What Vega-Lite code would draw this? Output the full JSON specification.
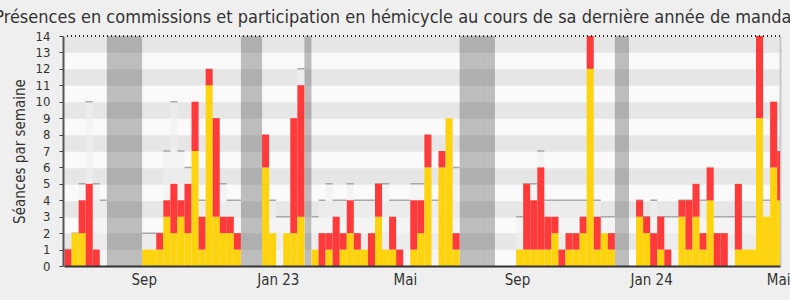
{
  "$schema": "https://vega.github.io/schema/vega-lite/v6.json",
  "width": 716,
  "height": 230,
  "autosize": {"type": "none"},
  "padding": {"left": 64, "top": 36, "right": 10, "bottom": 34},
  "background": "#efefef",
  "config": {
    "font": "'DejaVu Sans Condensed', 'DejaVu Sans', sans-serif",
    "view": {"fill": "#fafafa", "stroke": null},
    "bar": {"binSpacing": 0}
  },
  "title": {
    "text": "Présences en commissions et participation en hémicycle au cours de sa dernière année de mandat",
    "fontSize": 18,
    "fontWeight": "normal",
    "color": "#333333",
    "anchor": "middle",
    "offset": 3,
    "dx": -26
  },
  "data": {
    "values": [
      {"i": 0, "h": 0, "c": 1, "m": 1},
      {"i": 1, "h": 2, "c": 0, "m": 2},
      {"i": 2, "h": 2, "c": 2, "m": 5},
      {"i": 3, "h": 0, "c": 5, "m": 10},
      {"i": 4, "h": 0, "c": 1, "m": 5},
      {"i": 5, "h": 0, "c": 0, "m": 4},
      {"i": 6, "v": 1},
      {"i": 7, "v": 1},
      {"i": 8, "v": 1},
      {"i": 9, "v": 1},
      {"i": 10, "v": 1},
      {"i": 11, "h": 1, "c": 0, "m": 2},
      {"i": 12, "h": 1, "c": 0, "m": 2},
      {"i": 13, "h": 1, "c": 1, "m": 2},
      {"i": 14, "h": 3, "c": 1, "m": 7},
      {"i": 15, "h": 2, "c": 3, "m": 10},
      {"i": 16, "h": 3, "c": 1, "m": 7},
      {"i": 17, "h": 2, "c": 3, "m": 6},
      {"i": 18, "h": 7, "c": 3, "m": 6},
      {"i": 19, "h": 1, "c": 2, "m": 4},
      {"i": 20, "h": 11, "c": 1, "m": 6},
      {"i": 21, "h": 3, "c": 6, "m": 5},
      {"i": 22, "h": 2, "c": 1, "m": 5},
      {"i": 23, "h": 2, "c": 1, "m": 4},
      {"i": 24, "h": 1, "c": 1, "m": 4},
      {"i": 25, "v": 1},
      {"i": 26, "v": 1},
      {"i": 27, "v": 1},
      {"i": 28, "h": 6, "c": 2, "m": 5},
      {"i": 29, "h": 2, "c": 0, "m": 4},
      {"i": 30, "h": 0, "c": 0, "m": 3},
      {"i": 31, "h": 2, "c": 0, "m": 3},
      {"i": 32, "h": 2, "c": 7, "m": 5},
      {"i": 33, "h": 3, "c": 8, "m": 12},
      {"i": 34, "v": 1},
      {"i": 35, "h": 1, "c": 0, "m": 3},
      {"i": 36, "h": 0, "c": 2, "m": 4},
      {"i": 37, "h": 1, "c": 1, "m": 5},
      {"i": 38, "h": 0, "c": 3, "m": 4},
      {"i": 39, "h": 1, "c": 1, "m": 4},
      {"i": 40, "h": 2, "c": 2, "m": 5},
      {"i": 41, "h": 1, "c": 1, "m": 4},
      {"i": 42, "h": 1, "c": 0, "m": 4},
      {"i": 43, "h": 0, "c": 2, "m": 4},
      {"i": 44, "h": 3, "c": 2, "m": 5},
      {"i": 45, "h": 1, "c": 0, "m": 5},
      {"i": 46, "h": 1, "c": 2, "m": 4},
      {"i": 47, "h": 0, "c": 1, "m": 4},
      {"i": 48, "h": 0, "c": 0, "m": 4},
      {"i": 49, "h": 1, "c": 3, "m": 5},
      {"i": 50, "h": 2, "c": 2, "m": 5},
      {"i": 51, "h": 6, "c": 2, "m": 5},
      {"i": 52, "h": 0, "c": 0, "m": 4},
      {"i": 53, "h": 6, "c": 1, "m": 5},
      {"i": 54, "h": 9, "c": 0, "m": 4},
      {"i": 55, "h": 1, "c": 1, "m": 6},
      {"i": 56, "v": 1},
      {"i": 57, "v": 1},
      {"i": 58, "v": 1},
      {"i": 59, "v": 1},
      {"i": 60, "v": 1},
      {"i": 61, "h": 0, "c": 0, "m": 0},
      {"i": 62, "h": 0, "c": 0, "m": 0},
      {"i": 63, "h": 0, "c": 0, "m": 0},
      {"i": 64, "h": 1, "c": 0, "m": 3},
      {"i": 65, "h": 1, "c": 4, "m": 5},
      {"i": 66, "h": 1, "c": 3, "m": 5},
      {"i": 67, "h": 1, "c": 5, "m": 7},
      {"i": 68, "h": 1, "c": 2, "m": 4},
      {"i": 69, "h": 2, "c": 1, "m": 4},
      {"i": 70, "h": 0, "c": 1, "m": 4},
      {"i": 71, "h": 1, "c": 1, "m": 4},
      {"i": 72, "h": 1, "c": 1, "m": 4},
      {"i": 73, "h": 2, "c": 1, "m": 4},
      {"i": 74, "h": 12, "c": 2, "m": 4},
      {"i": 75, "h": 1, "c": 2, "m": 4},
      {"i": 76, "h": 2, "c": 0, "m": 3},
      {"i": 77, "h": 1, "c": 1, "m": 3},
      {"i": 78, "v": 1},
      {"i": 79, "v": 1},
      {"i": 80, "h": 0, "c": 0, "m": 0},
      {"i": 81, "h": 3, "c": 1, "m": 4},
      {"i": 82, "h": 2, "c": 1, "m": 3},
      {"i": 83, "h": 0, "c": 2, "m": 4},
      {"i": 84, "h": 1, "c": 2, "m": 3},
      {"i": 85, "h": 0, "c": 1, "m": 3},
      {"i": 86, "h": 0, "c": 0, "m": 3},
      {"i": 87, "h": 3, "c": 1, "m": 4},
      {"i": 88, "h": 1, "c": 3, "m": 4},
      {"i": 89, "h": 3, "c": 2, "m": 4},
      {"i": 90, "h": 1, "c": 1, "m": 4},
      {"i": 91, "h": 4, "c": 2, "m": 4},
      {"i": 92, "h": 0, "c": 2, "m": 3},
      {"i": 93, "h": 0, "c": 2, "m": 3},
      {"i": 94, "h": 0, "c": 0, "m": 3},
      {"i": 95, "h": 1, "c": 4, "m": 3},
      {"i": 96, "h": 1, "c": 0, "m": 3},
      {"i": 97, "h": 1, "c": 0, "m": 3},
      {"i": 98, "h": 9, "c": 5, "m": 4},
      {"i": 99, "h": 3, "c": 0, "m": 4},
      {"i": 100, "h": 6, "c": 4, "m": 4},
      {"i": 101, "h": 4, "c": 3, "m": 4}
    ]
  },
  "layer": [
    {
      "transform": [{"filter": "datum.v == 1"}],
      "mark": {"type": "bar", "color": "#333333", "opacity": 0.3, "clip": true, "binSpacing": 0},
      "encoding": {
        "x": {"field": "i", "type": "quantitative", "bin": {"step": 1, "extent": [0, 103]},
              "scale": {"domain": [0, 101.47], "nice": false, "zero": false}, "axis": null},
        "y": {"datum": 14, "type": "quantitative", "scale": {"domain": [0, 14], "nice": false}, "axis": null},
        "y2": {"datum": 0}
      }
    },
    {
      "transform": [{"filter": "datum.m > 0"}],
      "mark": {"type": "bar", "color": "#f0f0f0", "opacity": 0.6, "clip": true, "binSpacing": 0},
      "encoding": {
        "x": {"field": "i", "type": "quantitative", "bin": {"step": 1, "extent": [0, 103]},
              "scale": {"domain": [0, 101.47], "nice": false, "zero": false}, "axis": null},
        "y": {"field": "m", "type": "quantitative", "scale": {"domain": [0, 14], "nice": false}, "axis": null}
      }
    },
    {
      "transform": [{"filter": "datum.m > 0"}],
      "mark": {"type": "bar", "fill": null, "stroke": "#a8a8a8", "strokeWidth": 1.5, "clip": true, "binSpacing": 0},
      "encoding": {
        "x": {"field": "i", "type": "quantitative", "bin": {"step": 1, "extent": [0, 103]},
              "scale": {"domain": [0, 101.47], "nice": false, "zero": false}, "axis": null},
        "y": {"field": "m", "type": "quantitative", "scale": {"domain": [0, 14], "nice": false}, "axis": null},
        "y2": {"field": "m"}
      }
    },
    {
      "transform": [{"fold": ["h", "c"], "as": ["serie", "n"]}, {"filter": "datum.n > 0"}],
      "mark": {"type": "bar", "clip": true, "binSpacing": 0},
      "encoding": {
        "x": {"field": "i", "type": "quantitative", "bin": {"step": 1, "extent": [0, 103]},
              "scale": {"domain": [0, 101.47], "nice": false, "zero": false},
              "axis": {"title": null, "values": [11.3, 30.3, 48.3, 64.2, 83.2, 101.2],
                       "labelExpr": "datum.value < 20 ? 'Sep' : datum.value < 40 ? 'Jan 23' : datum.value < 55 ? 'Mai' : datum.value < 70 ? 'Sep' : datum.value < 90 ? 'Jan 24' : 'Mai'",
                       "ticks": false, "grid": false, "domainColor": "#333333", "domainWidth": 2,
                       "labelFontSize": 15, "labelColor": "#333333", "labelPadding": 6, "labelFlush": false,
                       "labelOverlap": false, "zindex": 1}},
        "y": {"field": "n", "type": "quantitative", "stack": "zero", "scale": {"domain": [0, 14], "nice": false},
              "axis": {"title": "Séances par semaine", "values": [0,1,2,3,4,5,6,7,8,9,10,11,12,13,14],
                       "grid": false, "tickSize": 4, "tickColor": "#444444", "domainColor": "#555555", "domainWidth": 2,
                       "labelFontSize": 13, "labelColor": "#333333", "labelPadding": 9, "labelOverlap": false,
                       "titleFontSize": 15, "titleFontWeight": "normal", "titleColor": "#333333", "titlePadding": 8,
                       "offset": 1, "zindex": 1}},
        "color": {"field": "serie", "type": "nominal", "scale": {"domain": ["h", "c"], "range": ["#ffd30d", "#ff3a3a"]}, "legend": null},
        "order": {"field": "serie", "sort": "descending"}
      }
    },
    {
      "transform": [
        {"filter": "datum.c > 0"},
        {"fold": ["h", "c"], "as": ["serie", "n"]},
        {"aggregate": [{"op": "sum", "field": "n", "as": "t"}], "groupby": ["i"]}
      ],
      "mark": {"type": "bar", "fill": null, "stroke": "#ff0000", "strokeWidth": 1, "clip": true, "binSpacing": 0},
      "encoding": {
        "x": {"field": "i", "type": "quantitative", "bin": {"step": 1, "extent": [0, 103]},
              "scale": {"domain": [0, 101.47], "nice": false, "zero": false}, "axis": null},
        "y": {"field": "t", "type": "quantitative", "scale": {"domain": [0, 14], "nice": false}, "axis": null},
        "y2": {"field": "t"}
      }
    },
    {
      "mark": {"type": "rule", "color": "#222222", "strokeDash": [1, 3], "strokeWidth": 1},
      "encoding": {
        "y": {"datum": 14, "type": "quantitative", "scale": {"domain": [0, 14], "nice": false},
              "axis": {"orient": "right", "values": [1.5, 3.5, 5.5, 7.5, 9.5, 11.5, 13.5], "grid": true,
                       "gridColor": "#e6e6e6", "gridWidth": 16.43, "gridOpacity": 1, "labels": false, "ticks": false,
                       "domain": true, "domainColor": "#c8c8c8", "domainWidth": 2, "title": null, "zindex": 0}}
      }
    }
  ],
  "resolve": {"axis": {"y": "independent", "x": "independent"}}
}
